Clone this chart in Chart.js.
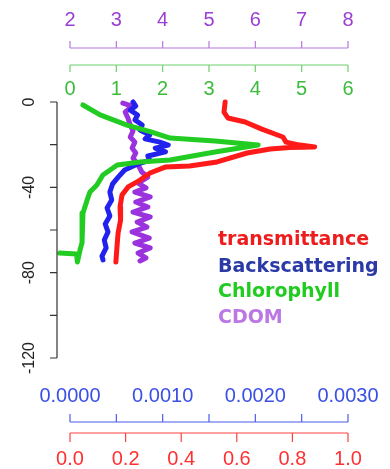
<!DOCTYPE html>
<html>
<head>
<meta charset="utf-8">
<script src="https://cdn.jsdelivr.net/npm/chart.js@4"></script>
<style>
  html, body { margin: 0; padding: 0; background: #fff; }
  #wrap { width: 390px; height: 469px; position: relative; }
</style>
</head>
<body>
<div id="wrap"><canvas id="profile"></canvas></div>
<script>
// depth profiles (m), each series has its own depth array
const chlDepth = [-1.4, -6, -10.8, -14, -16.9, -18.3, -20.2, -23.4, -27.2, -28.1, -29.5, -34.2, -38.9, -42.2, -45.9, -52, -60, -66, -69, -75, -71.2, -70.8];
const chlValues = [0.28, 0.65, 1.23, 1.75, 2.16, 3.13, 4.06, 3.13, 2.16, 1.51, 1.02, 0.71, 0.58, 0.43, 0.37, 0.28, 0.26, 0.26, 0.22, 0.16, 0.14, -0.22];

const trDepth = [0, -4.7, -7.5, -9.4, -12.7, -15, -16.4, -18.8, -20.2, -21.1, -21.3, -22, -23.9, -28.1, -30, -30.5, -33.3, -36.6, -39.8, -43.6, -49.2, -55.3, -61.4, -68, -75];
const trValues = [0.558, 0.554, 0.568, 0.63, 0.69, 0.737, 0.766, 0.777, 0.827, 0.88, 0.79, 0.72, 0.637, 0.529, 0.43, 0.342, 0.288, 0.252, 0.209, 0.187, 0.18, 0.182, 0.173, 0.169, 0.165];

const bbDepth = [0, -1.9, -3.8, -6.1, -8.4, -10.8, -13.1, -15.5, -17.3, -18.8, -20.2, -21.6, -23.4, -25.3, -27.2, -29.1, -31.9, -35.2, -38.4, -42.2, -45.9, -49.7, -53.4, -57.2, -60.9, -64.7, -68.4, -72.2, -74];
const bbValues = [0.00068, 0.00071, 0.00065, 0.00073, 0.00070, 0.00078, 0.000755, 0.00086, 0.00081, 0.00097, 0.00106, 0.00092, 0.00103, 0.00084, 0.00086, 0.00073, 0.00059, 0.00052, 0.00046, 0.00043, 0.00045, 0.00040, 0.00043, 0.00038, 0.00041, 0.00037, 0.00039, 0.000345, 0.000356];

const cdomDepth = [-0.5, -1.9, -4.7, -7.5, -10.8, -13.6, -16.4, -18.8, -21.6, -23.9, -26.3, -29.5, -32.8, -35.2, -38, -40.3, -42.2, -44.5, -46.9, -49.2, -51.6, -53.9, -56.3, -58.6, -60.9, -63.8, -66.1, -68.4, -70.8, -73.1, -74.5];
const cdomValues = [3.14, 3.34, 3.19, 3.25, 3.3, 3.36, 3.3, 3.4, 3.34, 3.42, 3.36, 3.47, 3.55, 3.68, 3.47, 3.64, 3.4, 3.73, 3.42, 3.68, 3.36, 3.73, 3.45, 3.66, 3.34, 3.71, 3.4, 3.73, 3.47, 3.64, 3.51];

// axis ticks
const cdomTicks = [2, 3, 4, 5, 6, 7, 8];
const chlTicks = [0, 1, 2, 3, 4, 5, 6];
const bbTicks = [0, 0.0005, 0.001, 0.0015, 0.002, 0.0025, 0.003];
const bbLabels = ['0.0000', '', '0.0010', '', '0.0020', '', '0.0030'];
const trTicks = [0, 0.2, 0.4, 0.6, 0.8, 1.0];
const trLabels = ['0.0', '0.2', '0.4', '0.6', '0.8', '1.0'];
const depthTicks = [0, -20, -40, -60, -80, -100, -120];
const depthLabels = ['0', '', '-40', '', '-80', '', '-120'];

const legendNames = ['transmittance', 'Backscattering', 'Chlorophyll', 'CDOM'];
const legendColors = ['#ee1d1d', '#2b3aa6', '#1fcc1f', '#bb77e2'];

function toPoints(xs, ys) {
    return xs.map((v, i) => ({ x: v, y: ys[i] }));
}

const axisFont = '20px "Liberation Sans", Arial, sans-serif';

// R-style detached axes, drawn from the chart's own scales
const rAxes = {
    id: 'rAxes',
    afterDraw(chart) {
        const ctx = chart.ctx;
        const s = chart.scales;
        ctx.save();
        ctx.lineWidth = 1.2;
        ctx.font = axisFont;
        ctx.textAlign = 'center';
        ctx.textBaseline = 'middle';

        function hAxis(scale, ticks, labels, lineY, tickDir, labelY, lineColor, textColor) {
            const x0 = scale.getPixelForValue(ticks[0]);
            const x1 = scale.getPixelForValue(ticks[ticks.length - 1]);
            ctx.strokeStyle = lineColor;
            ctx.beginPath();
            ctx.moveTo(x0, lineY);
            ctx.lineTo(x1, lineY);
            ticks.forEach(t => {
                const x = scale.getPixelForValue(t);
                ctx.moveTo(x, lineY);
                ctx.lineTo(x, lineY + tickDir);
            });
            ctx.stroke();
            ctx.fillStyle = textColor;
            ticks.forEach((t, i) => {
                if (labels[i]) ctx.fillText(labels[i], scale.getPixelForValue(t), labelY);
            });
        }

        hAxis(s.xCdom, cdomTicks, cdomTicks.map(String), 48, -7, 20, '#b47ae0', '#9b3fd4');
        hAxis(s.xChl, chlTicks, chlTicks.map(String), 65, 7, 89, '#6fcf6f', '#3dbb3d');
        hAxis(s.xBb, bbTicks, bbLabels, 422, -8, 396, '#4a5ee8', '#3a4fe6');
        hAxis(s.xTr, trTicks, trLabels, 433, 9, 459, '#ff4040', '#ff3030');

        // depth axis on the left
        const y = s.y;
        ctx.strokeStyle = '#333';
        ctx.beginPath();
        ctx.moveTo(57, y.getPixelForValue(0));
        ctx.lineTo(57, y.getPixelForValue(-120));
        depthTicks.forEach(t => {
            const py = y.getPixelForValue(t);
            ctx.moveTo(57, py);
            ctx.lineTo(50, py);
        });
        ctx.stroke();
        ctx.fillStyle = '#222';
        ctx.font = '16px "Liberation Sans", Arial, sans-serif';
        depthTicks.forEach((t, i) => {
            if (!depthLabels[i]) return;
            ctx.save();
            ctx.translate(30, y.getPixelForValue(t));
            ctx.rotate(-Math.PI / 2);
            ctx.fillText(depthLabels[i], 0, 0);
            ctx.restore();
        });

        // text legend
        ctx.textAlign = 'left';
        ctx.font = 'bold 19px "DejaVu Sans", sans-serif';
        const legendY = [240, 267, 292, 318];
        legendNames.forEach((name, i) => {
            ctx.fillStyle = legendColors[i];
            ctx.fillText(name, 218, legendY[i]);
        });
        ctx.restore();
    }
};

const ctx = document.getElementById('profile').getContext('2d');

const lineStyle = {
    showLine: true,
    pointRadius: 0,
    borderWidth: 5,
    tension: 0,
    clip: false,
    borderJoinStyle: 'round',
    borderCapStyle: 'round'
};

new Chart(ctx, {
    type: 'scatter',
    data: {
        datasets: [
            { ...lineStyle, label: 'Chlorophyll', xAxisID: 'xChl', borderColor: '#22cc22', data: toPoints(chlValues, chlDepth) },
            { ...lineStyle, label: 'transmittance', xAxisID: 'xTr', borderColor: '#ff1a1a', data: toPoints(trValues, trDepth) },
            { ...lineStyle, label: 'Backscattering', xAxisID: 'xBb', borderColor: '#2222ee', data: toPoints(bbValues, bbDepth) },
            { ...lineStyle, label: 'CDOM', xAxisID: 'xCdom', borderColor: '#9a33dd', data: toPoints(cdomValues, cdomDepth) }
        ]
    },
    options: {
        responsive: true,
        maintainAspectRatio: false,
        animation: false,
        layout: { padding: { left: 70, right: 42, top: 102, bottom: 111 } },
        scales: {
            xChl: { type: 'linear', min: 0, max: 6, display: false },
            xCdom: { type: 'linear', min: 2, max: 8, display: false },
            xBb: { type: 'linear', min: 0, max: 0.003, display: false },
            xTr: { type: 'linear', min: 0, max: 1, display: false },
            y: { type: 'linear', min: -120, max: 0, display: false }
        },
        plugins: {
            legend: { display: false },
            tooltip: { enabled: false }
        }
    },
    plugins: [rAxes]
});
</script>
</body>
</html>
